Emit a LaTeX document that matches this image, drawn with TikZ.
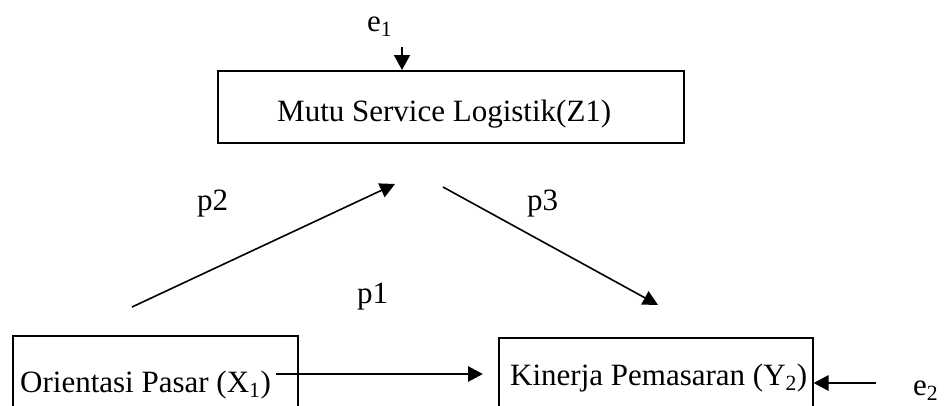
\documentclass[tikz,border=0pt]{standalone}
\usepackage{fontspec}
\setmainfont{Liberation Serif}
\usetikzlibrary{arrows.meta}
\begin{document}
\begin{tikzpicture}[x=1pt,y=-1pt,
  txt/.style={inner sep=0pt,anchor=base west,font=\fontsize{31}{36}\selectfont},
  boxnode/.style={draw,line width=1.5pt,anchor=north west,inner sep=0pt},
  diag/.style={line width=1.6pt,-{Triangle[length=15pt,width=15pt]}},
  thick arr/.style={line width=2.8pt,-{Triangle[length=15pt,width=15pt]}},
  thin arr/.style={line width=1.8pt,-{Triangle[length=15pt,width=16pt]}}]
\useasboundingbox (0,0) rectangle (945,405);
\clip (0,0) rectangle (945,405);
% boxes
\node[boxnode,minimum width=466pt,minimum height=72pt] (Z) at (217,70) {};
\node[boxnode,minimum width=285pt,minimum height=110pt] (X) at (12,335) {};
\node[boxnode,minimum width=314pt,minimum height=110pt] (Y) at (498,337) {};
% texts
\node[txt] (zt) at (277,121) {Mutu Service Logistik(Z1)};
\node[txt] (xt) at (20,392) {Orientasi Pasar (X\textsubscript{1})};
\node[txt] (yt) at (510,385) {Kinerja Pemasaran (Y\textsubscript{2})};
\node[txt] (e1) at (367,31) {e\textsubscript{1}};
\node[txt] (e2) at (913,395) {e\textsubscript{2}};
\node[txt] (p2) at (197,210) {p2};
\node[txt] (p3) at (527,210) {p3};
\node[txt] (p1) at (357,303) {p1};
% connector ends
\coordinate (e1s) at (402,47);
\coordinate (p2s) at (132,307);
\coordinate (p2e) at (395,184);
\coordinate (p3s) at (443,187);
\coordinate (p3e) at (658,305);
\coordinate (p1s) at (276,374);
\coordinate (p1e) at (483,374);
\coordinate (e2s) at (876,383);
% connectors
\draw[thin arr] (e1s) -- (e1s |- Z.north);
\draw[diag] (p2s) -- (p2e);
\draw[diag] (p3s) -- (p3e);
\draw[thick arr] (p1s) -- (p1e);
\draw[thick arr] (e2s) -- (e2s -| Y.east);
\end{tikzpicture}
\end{document}
